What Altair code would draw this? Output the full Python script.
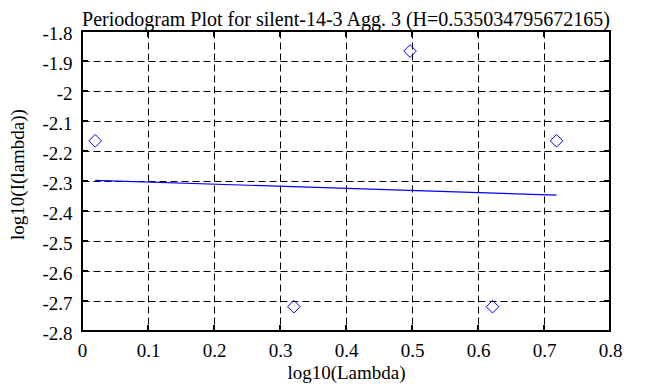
import altair as alt
import pandas as pd

# data (x = log10(lambda), lambda = k*pi/3)
pt_x = [0.020, 0.321, 0.497, 0.622, 0.719]
pt_y = [-2.166, -2.719, -1.867, -2.719, -2.166]
line_x = [0.020, 0.719]
line_y = [-2.298, -2.347]
x_ticks = [0, 0.1, 0.2, 0.3, 0.4, 0.5, 0.6, 0.7, 0.8]
y_ticks = [-2.8, -2.7, -2.6, -2.5, -2.4, -2.3, -2.2, -2.1, -2.0, -1.9, -1.8]
title = "Periodogram Plot for silent-14-3 Agg. 3 (H=0.535034795672165)"

W, H = 528, 300
FONT = "Liberation Serif"
FS = 19

pts = pd.DataFrame({"x": pt_x, "y": pt_y})
ln = pd.DataFrame({"x": line_x, "y": line_y})
xt = pd.DataFrame({"v": x_ticks})
yt = pd.DataFrame({"v": y_ticks})

xs = alt.Scale(domain=[0, 0.8], nice=False, zero=False)
ys = alt.Scale(domain=[-2.8, -1.8], nice=False, zero=False)

lbl = "toString(round(datum.value*10)/10)"
common = dict(labelExpr=lbl, grid=True, gridDash=[7, 4], gridColor="black",
              gridOpacity=1, gridWidth=1, ticks=False, domain=False,
              labelOverlap=False, labelFlush=False, labelBound=False,
              labelFont=FONT, labelFontSize=FS, labelColor="black",
              titleFont=FONT, titleFontSize=FS, titleFontWeight="normal",
              titleColor="black")

xaxis = alt.Axis(values=x_ticks, title="log10(Lambda)", labelPadding=10,
                 titleBaseline="alphabetic", titleY=47, titleX=W / 2, **common)
yaxis = alt.Axis(values=y_ticks, title="log10(I(lambda))", labelPadding=10,
                 labelOffset=2, titleAngle=270, titleBaseline="alphabetic",
                 titleX=-59, titleY=143, titleAlign="center", **common)


def X(f):
    return alt.X(f, scale=xs, axis=xaxis, title="log10(Lambda)")


def Y(f):
    return alt.Y(f, scale=ys, axis=yaxis, title="log10(I(lambda))")


points = alt.Chart(pts).mark_point(shape="diamond", size=160, color="#0000ff",
                                   strokeWidth=1, filled=False, opacity=1).encode(
    x=X("x:Q"), y=Y("y:Q"))
fit = alt.Chart(ln).mark_line(color="#0000ff", strokeWidth=1.2).encode(
    x=X("x:Q"), y=Y("y:Q"))

tk = dict(color="black", strokeWidth=2)
xb = alt.Chart(xt).mark_rule(**tk).encode(x=X("v:Q"), y=alt.value(H), y2=alt.value(H - 6))
xtop = alt.Chart(xt).mark_rule(**tk).encode(x=X("v:Q"), y=alt.value(0), y2=alt.value(6))
yl = alt.Chart(yt).mark_rule(**tk).encode(y=Y("v:Q"), x=alt.value(0), x2=alt.value(6))
yr = alt.Chart(yt).mark_rule(**tk).encode(y=Y("v:Q"), x=alt.value(W), x2=alt.value(W - 6))

chart = alt.layer(points, fit, xb, xtop, yl, yr).properties(
    width=W, height=H, background="white",
    title=alt.TitleParams(title, font=FONT, fontSize=20, fontWeight="normal",
                          color="black", anchor="middle", offset=6, dy=12),
    autosize=alt.AutoSizeParams(type="none"),
    padding={"left": 74, "top": 23, "right": 40, "bottom": 56},
).configure_view(stroke="black", strokeWidth=2)

chart.save("out.html", embed_options={"renderer": "svg", "actions": False})
